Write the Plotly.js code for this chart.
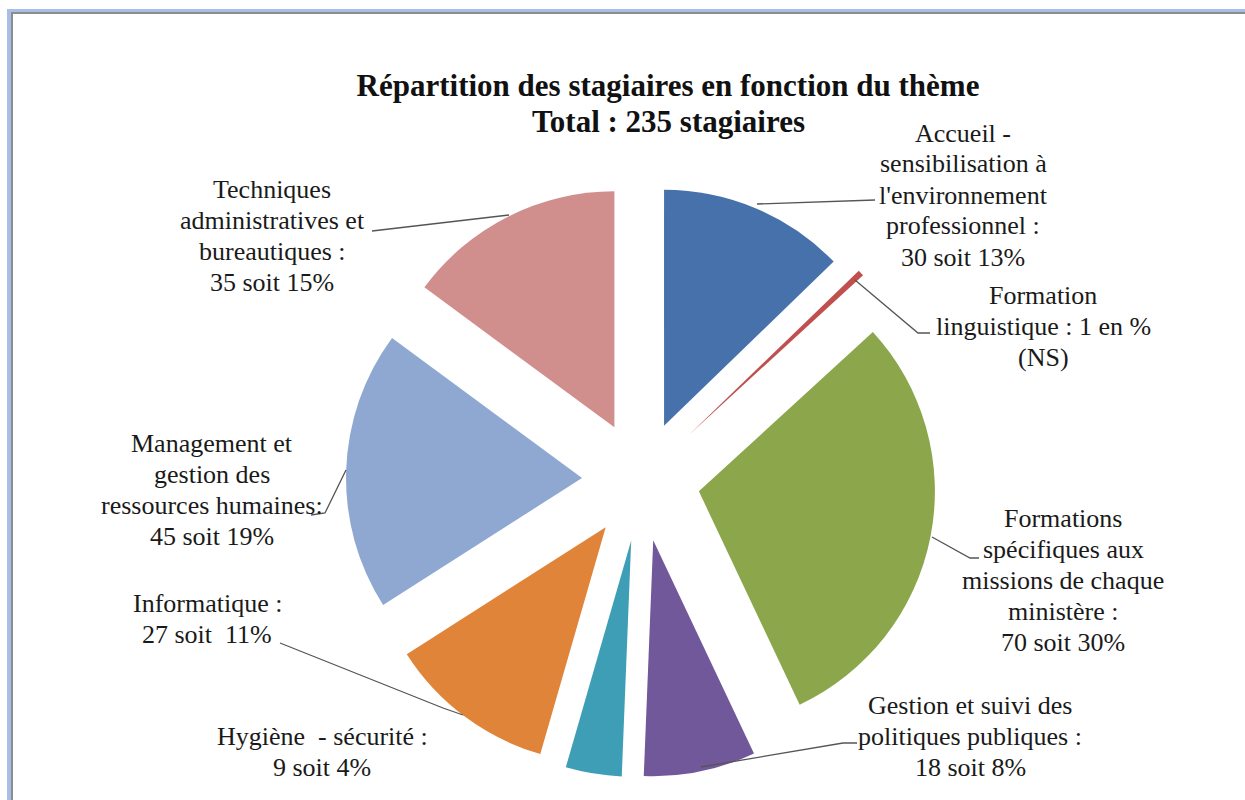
<!DOCTYPE html>
<html>
<head>
<meta charset="utf-8">
<script src="https://cdn.plot.ly/plotly-3.0.1.min.js"></script>
<style>html,body{margin:0;padding:0;background:#fff;}#chart{width:1245px;height:800px;}</style>
</head>
<body>
<div id="chart"></div>
<script>
// ---- data ----
const categories = [
  "Accueil - sensibilisation à l'environnement professionnel",
  "Formation linguistique",
  "Formations spécifiques aux missions de chaque ministère",
  "Gestion et suivi des politiques publiques",
  "Hygiène - sécurité",
  "Informatique",
  "Management et gestion des ressources humaines",
  "Techniques administratives et bureautiques"
];
const values = [30, 1, 70, 18, 9, 27, 45, 35];
const labelTexts = [
  ["Accueil -", "sensibilisation à", "l'environnement", "professionnel :", "30 soit 13%"],
  ["Formation", "linguistique : 1 en %", "(NS)"],
  ["Formations", "spécifiques aux", "missions de chaque", "ministère :", "70 soit 30%"],
  ["Gestion et suivi des", "politiques publiques :", "18 soit 8%"],
  ["Hygiène  - sécurité :", "9 soit 4%"],
  ["Informatique :", "27 soit  11%"],
  ["Management et", "gestion des", "ressources humaines:", "45 soit 19%"],
  ["Techniques", "administratives et", "bureautiques :", "35 soit 15%"]
];
const titleLine1 = "Répartition des stagiaires en fonction du thème";
const titleLine2 = "Total : 235 stagiaires";

// ---- styles / layout ----
const colors = ["#4671AA", "#C0504D", "#8BA64B", "#71589A", "#3E9EB5", "#E0843A", "#8EA8D1", "#D08E8D"];
const pulls = [0.25, 0.28, 0.25, 0.26, 0.26, 0.25, 0.25, 0.25];
const W = 1245, H = 800;
const px = x => x / W;
const py = y => 1 - y / H;

// label block centres (pixels) and line spacing
const labelPos = [
  [963, 195], [1043, 326], [1063, 580], [970, 736],
  [322, 752], [207, 619], [212, 490], [272, 236]
];
const lineStep = 31;
// leader lines (pixels)
const leaders = [
  [[757, 204], [875, 200]],
  [[855, 280], [918, 333], [930, 333]],
  [[932, 537], [970, 558], [979, 558]],
  [[701, 767], [843, 743], [857, 743]],
  [[280, 643], [443, 708], [463, 715]],
  [[346, 470], [325, 513], [311, 515]],
  [[509, 215], [372, 231]]
];

const lineFont = {family: "Liberation Serif", size: 26, color: "#1a1a1a"};

const annotations = [];
labelTexts.forEach((lines, i) => {
  const n = lines.length;
  lines.forEach((t, k) => {
    annotations.push({
      text: t, x: px(labelPos[i][0]), y: py(labelPos[i][1] + (k - (n - 1) / 2) * lineStep),
      xref: "paper", yref: "paper", xanchor: "center", yanchor: "middle",
      showarrow: false, align: "center", font: lineFont
    });
  });
});
annotations.push({
  text: "<b>" + titleLine2 + "</b>", x: px(668), y: py(122),
  xref: "paper", yref: "paper", xanchor: "center", yanchor: "middle",
  showarrow: false, font: {family: "Liberation Serif", size: 31, color: "#111"}
});

const shapes = leaders.map(pts => ({
  type: "path", xref: "paper", yref: "paper",
  path: pts.map((p, k) => (k ? "L" : "M") + px(p[0]) + "," + py(p[1])).join(" "),
  line: {color: "#555555", width: 1.3}
}));
// frame
shapes.push({type: "rect", xref: "paper", yref: "paper", x0: px(7), x1: px(11), y0: 0, y1: py(9), fillcolor: "#A9BEE4", line: {width: 0}, layer: "below"});
shapes.push({type: "rect", xref: "paper", yref: "paper", x0: px(7), x1: 1, y0: py(12), y1: py(9), fillcolor: "#A9BEE4", line: {width: 0}, layer: "below"});
shapes.push({type: "rect", xref: "paper", yref: "paper", x0: px(11), x1: px(13), y0: 0, y1: py(12), fillcolor: "#8C8C8C", line: {width: 0}, layer: "below"});
shapes.push({type: "rect", xref: "paper", yref: "paper", x0: px(11), x1: 1, y0: py(14), y1: py(12), fillcolor: "#8C8C8C", line: {width: 0}, layer: "below"});

// pie domain: centre (641,480), radius 236, max pull 0.28
const cx = 641, cy = 480, half = 236 * 1.28;
const trace = {
  type: "pie",
  labels: categories,
  values: values,
  sort: false,
  direction: "clockwise",
  rotation: 0,
  pull: pulls,
  marker: {colors: colors, line: {width: 0}},
  textinfo: "none",
  hoverinfo: "label+value+percent",
  showlegend: false,
  domain: {x: [px(cx - half), px(cx + half)], y: [py(cy + half), py(cy - half)]}
};

const layout = {
  width: W, height: H,
  margin: {l: 0, r: 0, t: 0, b: 0},
  paper_bgcolor: "#ffffff",
  showlegend: false,
  title: {
    text: "<b>" + titleLine1 + "</b>",
    x: px(668), xanchor: "center", y: py(85), yanchor: "middle",
    font: {family: "Liberation Serif", size: 31, color: "#111"}
  },
  annotations: annotations,
  shapes: shapes
};

Plotly.newPlot("chart", [trace], layout, {displayModeBar: false, staticPlot: true});
</script>
</body>
</html>
